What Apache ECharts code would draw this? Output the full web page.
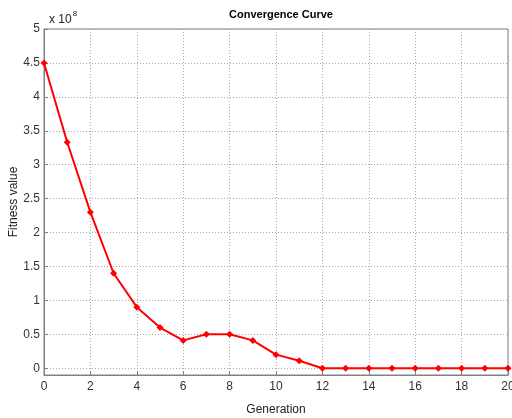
<!DOCTYPE html>
<html>
<head>
<meta charset="utf-8">
<script src="https://cdn.jsdelivr.net/npm/echarts@6/dist/echarts.min.js"></script>
<style>html,body{margin:0;padding:0;background:#fff}#c{width:512px;height:418px}</style>
</head>
<body>
<div id="c"></div>
<script>
const generations = [0,1,2,3,4,5,6,7,8,9,10,11,12,13,14,15,16,17,18,19,20];
const fitness = [4.5,3.33,2.3,1.4,0.9,0.6,0.41,0.5,0.5,0.41,0.2,0.11,0,0,0,0,0,0,0,0,0];
const yTicks = [0,0.5,1,1.5,2,2.5,3,3.5,4,4.5,5];

const chart = echarts.init(document.getElementById('c'));
const font = 'Liberation Sans, Arial, sans-serif';
chart.setOption({
  animation: false,
  title: [{
    text: 'Convergence Curve', left: 276, top: 4, textAlign: 'center',
    textStyle: {fontSize: 11, fontWeight: 'bold', color: '#000', fontFamily: font}
  }, {
    text: '{a|x 10}{b|8}', left: 44, top: 5,
    textStyle: {fontWeight: 'normal', rich: {
      a: {fontSize: 12, color: '#222', fontFamily: font, fontWeight: 'normal', verticalAlign: 'bottom'},
      b: {fontSize: 8, color: '#222', fontFamily: font, fontWeight: 'normal', verticalAlign: 'top', padding: [0,0,8,1]}
    }}
  }],
  grid: {left: 44, right: 4, top: 29, bottom: 43, show: true, borderColor: '#808080', borderWidth: 1,
         containLabel: false, outerBoundsMode: 'none'},
  xAxis: {
    type: 'value', min: 0, max: 20, interval: 2,
    name: 'Generation', nameLocation: 'middle', nameGap: 29, nameMoveOverlap: false,
    nameTextStyle: {fontSize: 12, color: '#222', fontFamily: font},
    axisLine: {show: true, onZero: false, lineStyle: {color: '#808080'}},
    axisTick: {show: true, inside: true, length: 4, lineStyle: {color: '#808080'}},
    axisLabel: {fontSize: 12, color: '#333', fontFamily: font, margin: 6, showMaxLabel: true, showMinLabel: true},
    splitLine: {show: true, lineStyle: {color: '#a8a8a8', type: [1,2], width: 1}}
  },
  yAxis: {
    type: 'value', min: -0.1, max: 5,
    name: 'Fitness value', nameLocation: 'middle', nameGap: 24, nameRotate: 90, nameMoveOverlap: false,
    nameTextStyle: {fontSize: 12, color: '#222', fontFamily: font},
    axisLine: {show: true, onZero: false, lineStyle: {color: '#808080'}},
    axisTick: {show: true, inside: true, length: 4, lineStyle: {color: '#808080'}, customValues: yTicks},
    axisLabel: {fontSize: 12, color: '#333', fontFamily: font, margin: 4, customValues: yTicks},
    splitLine: {show: true, lineStyle: {color: '#a8a8a8', type: [1,2], width: 1}}
  },
  series: [{
    type: 'line',
    data: generations.map((g, i) => [g, fitness[i]]),
    symbol: 'diamond', symbolSize: 7, showSymbol: true,
    lineStyle: {color: '#ff0000', width: 2},
    itemStyle: {color: '#ff0000'},
    clip: false
  }]
});
</script>
</body>
</html>
